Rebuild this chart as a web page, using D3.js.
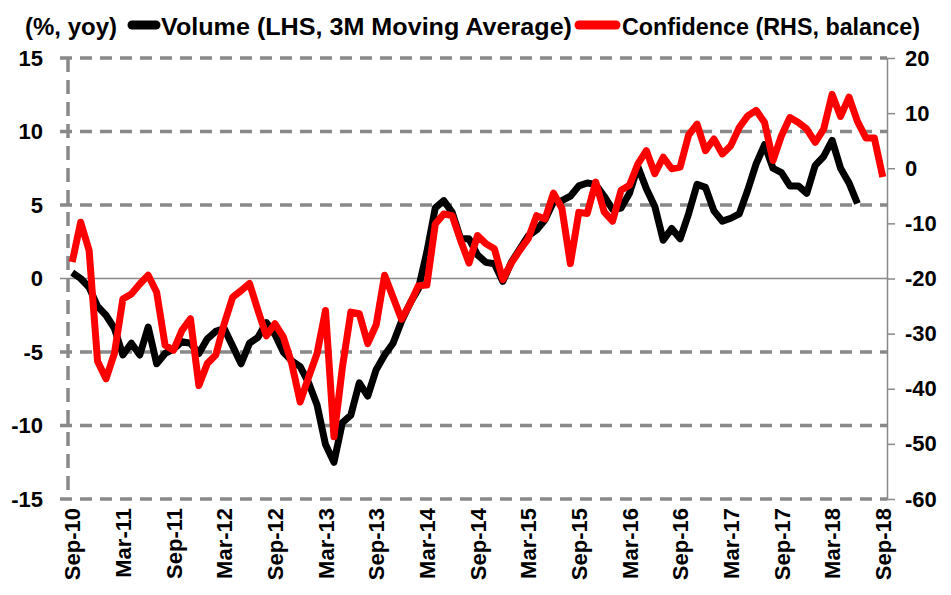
<!DOCTYPE html>
<html>
<head>
<meta charset="utf-8">
<script src="https://cdn.jsdelivr.net/npm/d3@7"></script>
<style>
  body { margin: 0; background: #fff; }
  svg { display: block; font-family: "Liberation Sans", Arial, sans-serif; }
</style>
</head>
<body>
<svg width="951" height="595"></svg>
<script>
// monthly categories Sep-10 .. Sep-18
const months = d3.timeMonth.range(new Date(2010, 8, 1), new Date(2018, 9, 1))
const fmt = d3.timeFormat('%b-%y')
const categories = months.map(fmt)

const xTickLabels = ['Sep-10', 'Mar-11', 'Sep-11', 'Mar-12', 'Sep-12', 'Mar-13', 'Sep-13', 'Mar-14',
  'Sep-14', 'Mar-15', 'Sep-15', 'Mar-16', 'Sep-16', 'Mar-17', 'Sep-17', 'Mar-18', 'Sep-18']
const leftTicks = [-15, -10, -5, 0, 5, 10, 15]
const rightTicks = [-60, -50, -40, -30, -20, -10, 0, 10, 20]

// Volume, % yoy, 3M moving average (Sep-10 .. Jun-18)
const volume = [
  0.4, 0.0, -0.6, -1.9, -2.5, -3.4, -5.2, -4.4, -5.2, -3.3,
  -5.8, -5.1, -4.8, -4.3, -4.4, -5.1, -4.1, -3.6, -3.4, -4.6,
  -5.8, -4.4, -4.0, -3.0, -3.8, -5.0, -5.6, -6.0, -7.1, -8.6,
  -11.3, -12.5, -9.8, -9.3, -7.1, -8.0, -6.2, -5.2, -4.4, -2.9,
  -1.7, -0.7, 1.8, 4.8, 5.3, 4.5, 2.7, 2.7, 1.6, 1.1,
  1.0, -0.2, 1.1, 2.0, 2.9, 3.3, 4.0, 5.2, 5.3, 5.6,
  6.3, 6.5, 6.4, 5.6, 4.7, 4.8, 5.8, 7.6, 6.1, 4.9,
  2.6, 3.4, 2.7, 4.4, 6.4, 6.2, 4.6, 3.9, 4.1, 4.4,
  6.0, 7.8, 9.1, 7.5, 7.2, 6.3, 6.3, 5.8, 7.7, 8.3,
  9.4, 7.5, 6.5, 5.1
]

// Confidence, balance (Sep-10 .. Sep-18)
const confidence = [
  -17.0, -9.8, -14.9, -35.0, -38.2, -33.6, -23.7, -22.8, -21.0, -19.4,
  -22.5, -32.1, -33.0, -29.4, -27.3, -39.4, -35.4, -33.9, -28.2, -23.4,
  -22.2, -20.9, -25.8, -30.4, -28.2, -30.6, -35.4, -42.4, -37.9, -33.6,
  -25.8, -48.7, -36.1, -26.1, -26.4, -31.8, -28.4, -19.4, -23.4, -27.4,
  -24.6, -21.3, -21.2, -10.1, -8.3, -8.6, -13.1, -17.2, -12.2, -13.7,
  -14.6, -20.2, -17.2, -14.9, -12.8, -8.6, -9.2, -4.5, -7.3, -17.3,
  -8.0, -8.2, -2.5, -7.9, -9.6, -4.0, -3.1, 0.8, 3.2, -1.0,
  2.0, -0.1, 0.2, 6.0, 8.0, 3.2, 5.3, 2.6, 4.1, 7.4,
  9.5, 10.5, 8.3, 1.4, 5.9, 9.2, 8.3, 7.1, 4.7, 7.1,
  13.4, 9.4, 12.9, 8.5, 5.5, 5.5, -1.6
]

const svg = d3.select('svg')
svg.append('rect').attr('width', 951).attr('height', 595).attr('fill', '#fff')

const plot = { left: 68, right: 887, top: 58, bottom: 499 }
const grey = '#898989'

const x = d3.scalePoint().domain(categories).range([plot.left, plot.right]).padding(0.5)
const yL = d3.scaleLinear().domain([-15, 15]).range([plot.bottom, plot.top])
const yR = d3.scaleLinear().domain([-60, 20]).range([plot.bottom, plot.top])

// dashed gridlines (left axis)
svg.append('g').selectAll('line')
  .data(leftTicks.filter(d => d !== 0))
  .join('line')
  .attr('x1', 60).attr('x2', plot.right)
  .attr('y1', d => yL(d)).attr('y2', d => yL(d))
  .attr('stroke', grey).attr('stroke-width', 3.5)
  .attr('stroke-dasharray', '12,8')

// zero line
svg.append('line')
  .attr('x1', 60).attr('x2', plot.right)
  .attr('y1', yL(0)).attr('y2', yL(0))
  .attr('stroke', grey).attr('stroke-width', 1.5)

// dashed left axis line
svg.append('line')
  .attr('x1', plot.left).attr('x2', plot.left)
  .attr('y1', plot.top).attr('y2', plot.bottom)
  .attr('stroke', grey).attr('stroke-width', 3.5)
  .attr('stroke-dasharray', '14,8')

const lineL = d3.line().x((d, i) => x(categories[i])).y(d => yL(d))
const lineR = d3.line().x((d, i) => x(categories[i])).y(d => yR(d))

svg.append('path').datum(volume)
  .attr('d', lineL)
  .attr('fill', 'none').attr('stroke', '#000').attr('stroke-width', 7)
  .attr('stroke-linejoin', 'round')

svg.append('path').datum(confidence)
  .attr('d', lineR)
  .attr('fill', 'none').attr('stroke', '#ff0000').attr('stroke-width', 7)
  .attr('stroke-linejoin', 'round')

// left axis labels
const gLeft = svg.append('g')
  .attr('transform', 'translate(' + plot.left + ',0)')
  .call(d3.axisLeft(yL).tickValues(leftTicks).tickFormat(d => String(d)).tickSize(0).tickPadding(25))
gLeft.select('.domain').remove()

// right axis
const gRight = svg.append('g')
  .attr('transform', 'translate(' + plot.right + ',0)')
  .call(d3.axisRight(yR).tickValues(rightTicks).tickFormat(d => String(d))
    .tickSize(8).tickSizeOuter(0).tickPadding(10))
gRight.select('.domain').attr('stroke', grey).attr('stroke-width', 1.5)
gRight.selectAll('.tick line').attr('stroke', grey).attr('stroke-width', 1.5)

// bottom category labels
const gBottom = svg.append('g')
  .attr('transform', 'translate(0,' + plot.bottom + ')')
  .call(d3.axisBottom(x).tickValues(xTickLabels).tickSize(0))
gBottom.select('.domain').remove()
gBottom.selectAll('text')
  .attr('transform', 'rotate(-90)')
  .attr('x', -9).attr('y', 0).attr('dy', '0.35em')
  .style('text-anchor', 'end')

svg.selectAll('.tick text')
  .attr('fill', '#000')
  .style('font-family', '"Liberation Sans", Arial, sans-serif')
  .style('font-size', '22px')
  .style('font-weight', 'bold')

// legend
const legendY = 27
const legendItems = [
  { text: '(%, yoy)', x0: 25, x1: 117 },
  { swatch: '#000', x0: 128, x1: 160 },
  { text: 'Volume (LHS, 3M Moving Average)', x0: 161, x1: 572 },
  { swatch: '#ff0000', x0: 575, x1: 620 },
  { text: 'Confidence (RHS, balance)', x0: 622, x1: 920 }
]
const legend = svg.append('g')
legendItems.forEach(it => {
  if (it.swatch) {
    legend.append('line')
      .attr('x1', it.x0 + 4).attr('x2', it.x1 - 4)
      .attr('y1', legendY - 2).attr('y2', legendY - 2)
      .attr('stroke', it.swatch).attr('stroke-width', 9)
      .attr('stroke-linecap', 'round')
  } else {
    legend.append('text')
      .attr('x', it.x0).attr('y', legendY)
      .attr('dominant-baseline', 'central')
      .attr('textLength', it.x1 - it.x0)
      .attr('lengthAdjust', 'spacingAndGlyphs')
      .style('font-size', '23px')
      .style('font-weight', 'bold')
      .text(it.text)
  }
})
</script>
</body>
</html>
